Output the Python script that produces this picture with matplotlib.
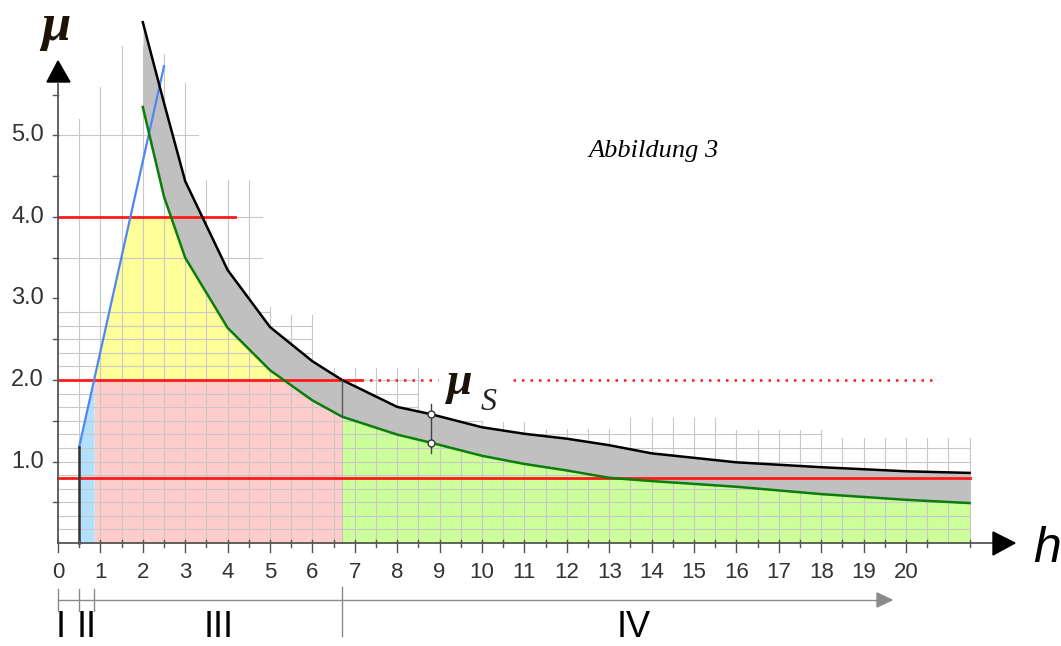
import numpy as np
import matplotlib
matplotlib.use("Agg")
import matplotlib.pyplot as plt
from matplotlib.patches import Polygon

# ---------------- data ----------------
h_pts = [2.0, 2.5, 3.0, 4.0, 5.0, 6.0, 6.7, 8.0, 8.8, 10.0, 11.0, 12.0, 13.0,
         14.0, 16.0, 18.0, 20.0, 21.5]
mu_upper = [6.39, 5.40, 4.44, 3.35, 2.65, 2.23, 2.00, 1.67, 1.58, 1.42, 1.34,
            1.28, 1.20, 1.10, 0.99, 0.93, 0.88, 0.86]
mu_lower = [5.35, 4.25, 3.50, 2.64, 2.12, 1.75, 1.55, 1.33, 1.23, 1.07, 0.97,
            0.89, 0.80, 0.76, 0.69, 0.60, 0.53, 0.49]
blue_h = [0.5, 2.5]
blue_mu = [1.18, 5.85]
level_top = 4.0
level_s = 2.0
level_low = 0.8
h_start = 0.5
h_mark = 8.8
x_ticks = list(range(0, 21))
y_ticks = [1.0, 2.0, 3.0, 4.0, 5.0]
y_tick_labels = ["1.0", "2.0", "3.0", "4.0", "5.0"]
region_labels = ["I", "II", "III", "IV"]

# grid envelope (top of vertical grid lines, every 0.5)
grid_h = np.arange(0.5, 21.51, 0.5)
grid_top = [5.2, 5.6, 6.1, 6.1, 6.0, 5.65, 4.45, 4.45, 4.45, 2.9, 2.8, 2.8,
            2.15, 2.15, 2.15, 2.15, 2.15, 1.5, 1.5, 1.5, 1.48, 1.48, 1.4, 1.4,
            1.4, 1.4, 1.53, 1.53, 1.53, 1.53, 1.53, 1.39, 1.39, 1.39, 1.39,
            1.39, 1.29, 1.29, 1.29, 1.29, 1.29, 1.29, 1.29]

# ---------------- pixel <-> data mapping ----------------
W, H = 1061, 646
X0, SX = 58.0, 42.4
Y0, SY = 543.0, 81.5


def ph(x):
    return (x - X0) / SX


def pm(y):
    return (Y0 - y) / SY


fig = plt.figure(figsize=(W / 100, H / 100), dpi=100)
ax = fig.add_axes([0, 0, 1, 1])
ax.set_xlim(ph(0), ph(W))
ax.set_ylim(pm(H), pm(0))
ax.axis("off")

h_arr = np.array(h_pts)
up = np.array(mu_upper)
lo = np.array(mu_lower)

hf = np.linspace(h_start, h_arr[-1], 3000)
blue_f = np.where(hf <= blue_h[-1], np.interp(hf, blue_h, blue_mu), np.inf)
lo_f = np.interp(hf, h_arr, lo, left=np.inf)
up_f = np.interp(hf, h_arr, up, left=np.nan)
h_cross = np.interp(level_s, blue_mu, blue_h)
h_s = np.interp(level_s, up[::-1], h_arr[::-1])

# ---------------- fills ----------------
m = (hf >= h_start) & (hf <= h_cross)
ax.fill_between(hf, 0, np.minimum(blue_f, level_s), where=m, color="#b3e0fb",
                lw=0, zorder=1)
m = (hf >= h_cross) & (hf <= h_s)
ax.fill_between(hf, 0, level_s, where=m, color="#ffcccc", lw=0, zorder=1)
yl_top = np.minimum(np.minimum(blue_f, lo_f), level_top)
m = (hf >= h_cross) & (yl_top > level_s)
ax.fill_between(hf, level_s, yl_top, where=m, color="#ffff99", lw=0, zorder=1)
m = hf >= h_s
ax.fill_between(hf, 0, np.where(m, lo_f, 0), where=m, color="#ccff99", lw=0,
                zorder=1)

# ---------------- grid ----------------
gcol = "#c8c8c8"
for gx, gt in zip(grid_h, grid_top):
    ax.plot([gx, gx], [0, gt], color=gcol, lw=0.8, zorder=1.5)
levels = [k / 6 for k in range(1, 18)] + [3.5, 4.0, 5.0]
for lv in levels:
    right = None
    for gx, gt in zip(grid_h, grid_top):
        if gt >= lv:
            right = gx
        else:
            break
    if right is None:
        continue
    ext = 0.3 if lv >= 3.5 else 0.0
    ax.plot([0, right + ext], [lv, lv], color=gcol, lw=0.8, zorder=1.5)

# gray band
m = hf >= h_arr[0]
ax.fill_between(hf, np.where(m, lo_f, 0), np.where(m, up_f, 0), where=m,
                color="#c0c0c0", lw=0, zorder=2)

# ---------------- red levels ----------------
red = "#ff1a1a"
ax.plot([0, ph(235)], [level_top, level_top], color=red, lw=2, zorder=3)
ax.plot([0, ph(361)], [level_s, level_s], color=red, lw=2, zorder=3)
ax.plot([ph(361), ph(438)], [level_s, level_s], color=red, lw=1.8,
        ls=(0, (1, 2.4)), zorder=3)
ax.plot([ph(513), ph(933)], [level_s, level_s], color=red, lw=1.8,
        ls=(0, (1, 2.4)), zorder=3)
ax.plot([0, h_arr[-1]], [level_low, level_low], color=red, lw=2, zorder=3)

# ---------------- curves ----------------
ax.plot(blue_h, blue_mu, color="#4f86f7", lw=1.6, zorder=4)
ax.plot(h_arr, lo, color="#0a7d0a", lw=1.8, zorder=4)
ax.plot(h_arr, up, color="black", lw=1.8, zorder=4)
ax.plot([h_start, h_start], [0, blue_mu[0]], color="#333333", lw=1.8, zorder=4)
ax.plot([h_s, h_s], [np.interp(h_s, h_arr, lo), level_s], color="#555555",
        lw=1.0, zorder=4)
ax.plot([h_s, h_s], [0, np.interp(h_s, h_arr, lo)], color="#bbbbbb", lw=0.6,
        zorder=1.6)
mu_m_up = np.interp(h_mark, h_arr, up)
mu_m_lo = np.interp(h_mark, h_arr, lo)
ax.plot([h_mark, h_mark], [mu_m_up + 0.12, mu_m_lo - 0.12], color="#444444",
        lw=1.0, zorder=4)
ax.plot([h_mark, h_mark], [mu_m_up, mu_m_lo], ls="none", marker="o", ms=5,
        mfc="white", mec="#333333", mew=1.0, zorder=5)

# ---------------- axes ----------------
axc = "#555555"
ax.plot([0, ph(995)], [0, 0], color=axc, lw=1.3, zorder=5)
ax.add_patch(Polygon([[ph(993), pm(532)], [ph(1015), 0], [ph(993), pm(555)]],
                     closed=True, color="black", zorder=6))
ax.plot([0, 0], [0, pm(84)], color=axc, lw=1.3, zorder=5)
ax.add_patch(Polygon([[ph(47), pm(82)], [0, pm(61)], [ph(70), pm(82)]],
                     closed=True, color="black", zorder=6))

for t in x_ticks:
    ax.plot([t, t], [pm(Y0 - 3), pm(Y0 + 9)], color=axc, lw=1.0, zorder=5)
    ax.text(t, pm(572), str(t), ha="center", va="center", fontsize=16,
            color="#333333", family="Liberation Sans")
for t in np.arange(0.5, 22, 1.0):
    ax.plot([t, t], [pm(Y0 - 3), pm(Y0 + 4)], color=axc, lw=1.0, zorder=5)
for t, lab in zip(y_ticks, y_tick_labels):
    ax.plot([ph(X0 - 5), 0], [t, t], color=axc, lw=1.0, zorder=5)
    ax.text(ph(44), t, lab, ha="right", va="center", fontsize=17,
            color="#333333", family="Liberation Sans")
for t in np.arange(0.5, 5.6, 1.0):
    ax.plot([ph(X0 - 5), 0], [t, t], color=axc, lw=1.0, zorder=5)

# region axis
rc = "#8a8a8a"
ax.plot([0, ph(880)], [pm(600), pm(600)], color=rc, lw=1.0)
ax.add_patch(Polygon([[ph(877), pm(593)], [ph(892), pm(600)],
                      [ph(877), pm(607)]], closed=True, color=rc))
for t in [0, h_start, h_cross]:
    ax.plot([t, t], [pm(589), pm(611)], color=rc, lw=1.0)
ax.plot([h_s, h_s], [pm(587), pm(636)], color=rc, lw=1.0)
for lab, xp in zip(region_labels, [61, 87, 219, 634]):
    ax.text(ph(xp), pm(645), lab, ha="center", va="bottom", fontsize=26,
            color="black", family="Liberation Sans")

# ---------------- labels ----------------
ax.text(ph(56), pm(40), "\u03bc", ha="center", va="baseline", fontsize=38,
        style="italic", weight="bold", family="Liberation Serif",
        color="#1c1208")
ax.text(ph(1033), pm(562), "h", ha="left", va="baseline", fontsize=36,
        style="italic", family="Liberation Sans", color="black")
ax.text(ph(460), pm(394), "\u03bc", ha="center", va="baseline", fontsize=33,
        style="italic", weight="bold", family="Liberation Serif",
        color="#1c1208")
ax.text(ph(489), pm(410), "S", ha="center", va="baseline", fontsize=23,
        style="italic", family="Liberation Serif", color="#222222")
ax.text(ph(588), pm(157), "Abbildung 3", ha="left", va="baseline",
        fontsize=19, style="italic", family="Liberation Serif", color="black")

fig.savefig("out.png", dpi=100)
